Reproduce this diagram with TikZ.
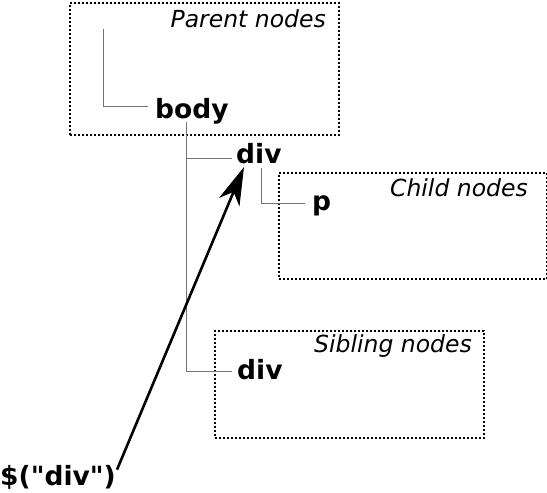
\documentclass[tikz,border=0pt]{standalone}
\usepackage{fontspec}
\setmainfont{DejaVu Sans}
\usetikzlibrary{calc,arrows.meta}
\tikzset{
  tag/.style={inner sep=0pt, anchor=base west, font=\bfseries\fontsize{26.5}{29}\selectfont},
  boxtitle/.style={inner sep=0pt, anchor=base east, font=\itshape\fontsize{23.5}{26}\selectfont},
  group/.style={draw=black, line width=2pt, dash pattern=on 2pt off 2pt},
  tree/.style={draw=black!55, line width=1pt},
  pointer/.style={draw=black, line width=2.6pt, -{Stealth[length=38pt, width=22pt, inset=11pt]}}
}
\begin{document}
\begin{tikzpicture}[x=1pt,y=-1pt]
\useasboundingbox (0,0) rectangle (547,493);
% group boxes
\node[group, minimum width=269pt, minimum height=132pt, anchor=north west, inner sep=0pt] (parentbox) at (69,2) {};
\node[group, minimum width=268pt, minimum height=106pt, anchor=north west, inner sep=0pt] (childbox) at (278,172) {};
\node[group, minimum width=269pt, minimum height=107pt, anchor=north west, inner sep=0pt] (siblingbox) at (214,330) {};
% box titles
\node[boxtitle] (parenttitle) at (326,27) {Parent nodes};
\node[boxtitle] (childtitle) at (528,196) {Child nodes};
\node[boxtitle] (siblingtitle) at (472,352) {Sibling nodes};
% element nodes
\node[tag] (body) at (155,118) {body};
\node[tag] (div1) at (236,163) {div};
\node[tag] (p) at (312,210) {p};
\node[tag] (div2) at (237,379) {div};
\node[tag] (jq) at (0,485) {\$(\textquotedbl div\textquotedbl)};
% tree connectors
\coordinate (above) at (103,29);
\draw[tree] (above) |- ($(body.base west)+(-7,-12)$);
\coordinate (bodystem) at ($(body.base west)+(31,4)$);
\draw[tree] (bodystem) |- ($(div1.base west)+(-4,-5)$);
\draw[tree] (bodystem) |- ($(div2.base west)+(-5,-8)$);
\draw[tree] ($(div1.base west)+(25,5)$) |- ($(p.base west)+(-7,-7)$);
% pointer
\draw[pointer] ($(jq.north east)+(1,5)$) -- ($(div1.base west)+(8,4)$);
\end{tikzpicture}
\end{document}
